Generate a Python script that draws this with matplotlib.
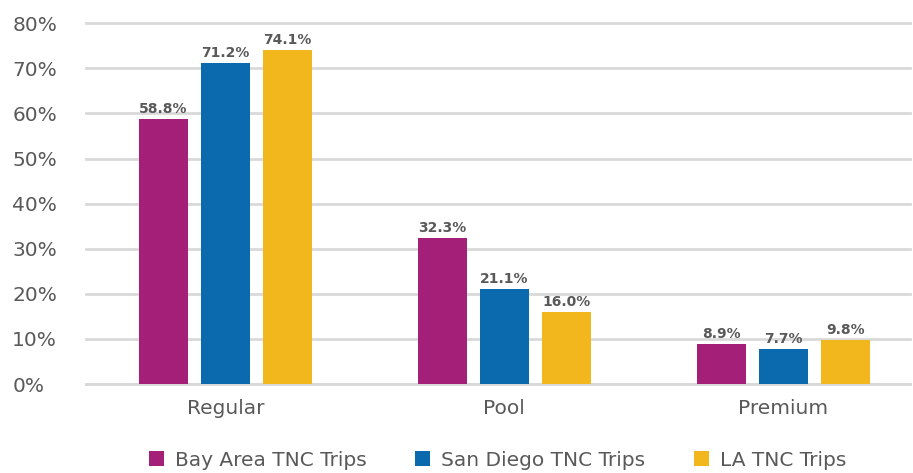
import matplotlib
matplotlib.use("Agg")
import matplotlib.pyplot as plt
import numpy as np

categories = ["Regular", "Pool", "Premium"]
series_names = ["Bay Area TNC Trips", "San Diego TNC Trips", "LA TNC Trips"]
bay_area = [58.8, 32.3, 8.9]
san_diego = [71.2, 21.1, 7.7]
la = [74.1, 16.0, 9.8]
y_ticks = [0, 10, 20, 30, 40, 50, 60, 70, 80]

colors = ["#A41F78", "#0B6AAD", "#F2B71C"]
plt.rcParams['font.family'] = ['DejaVu Sans']

fig = plt.figure(figsize=(9.13, 4.73), dpi=100)
ax = fig.add_axes([0.094, 0.188, 0.903, 0.763])

x = np.arange(len(categories))
width = 0.175
step = 0.222
text_color = "#595959"
for i, (vals, name) in enumerate(zip([bay_area, san_diego, la], series_names)):
    pos = x + (i - 1) * step
    bars = ax.bar(pos, vals, width=width, color=colors[i], label=name, zorder=3)
    for b, v in zip(bars, vals):
        ax.text(b.get_x() + b.get_width() / 2, v + 0.7, f"{v:.1f}%", ha="center", va="bottom",
                fontsize=10, fontweight="bold", color=text_color, zorder=4)

ax.set_xlim(-0.5, 2.455)
ax.set_ylim(0, 80)
ax.set_yticks(y_ticks)
ax.set_yticklabels([f"{t}%" for t in y_ticks])
ax.set_xticks(x)
ax.set_xticklabels(categories)
ax.tick_params(axis="both", length=0, labelsize=14.5, colors=text_color)
ax.tick_params(axis="y", pad=53)
ax.tick_params(axis="x", pad=11)
ax.grid(axis="y", color="#D9D9D9", linewidth=2, zorder=0)
for ln in ax.get_ygridlines():
    ln.set_clip_on(False)
for s in ["top", "right", "left"]:
    ax.spines[s].set_visible(False)
ax.spines["bottom"].set_color("#D9D9D9")
ax.spines["bottom"].set_linewidth(2)
for lab in ax.get_yticklabels():
    lab.set_horizontalalignment("left")

leg = fig.legend(loc="center", bbox_to_anchor=(0.545, 0.027), ncol=3, frameon=False,
                 fontsize=14.5, handlelength=0.75, handleheight=0.75, handletextpad=0.55,
                 columnspacing=2.4, borderpad=0, borderaxespad=0)
for t in leg.get_texts():
    t.set_color(text_color)

fig.savefig("out.png", dpi=100)
